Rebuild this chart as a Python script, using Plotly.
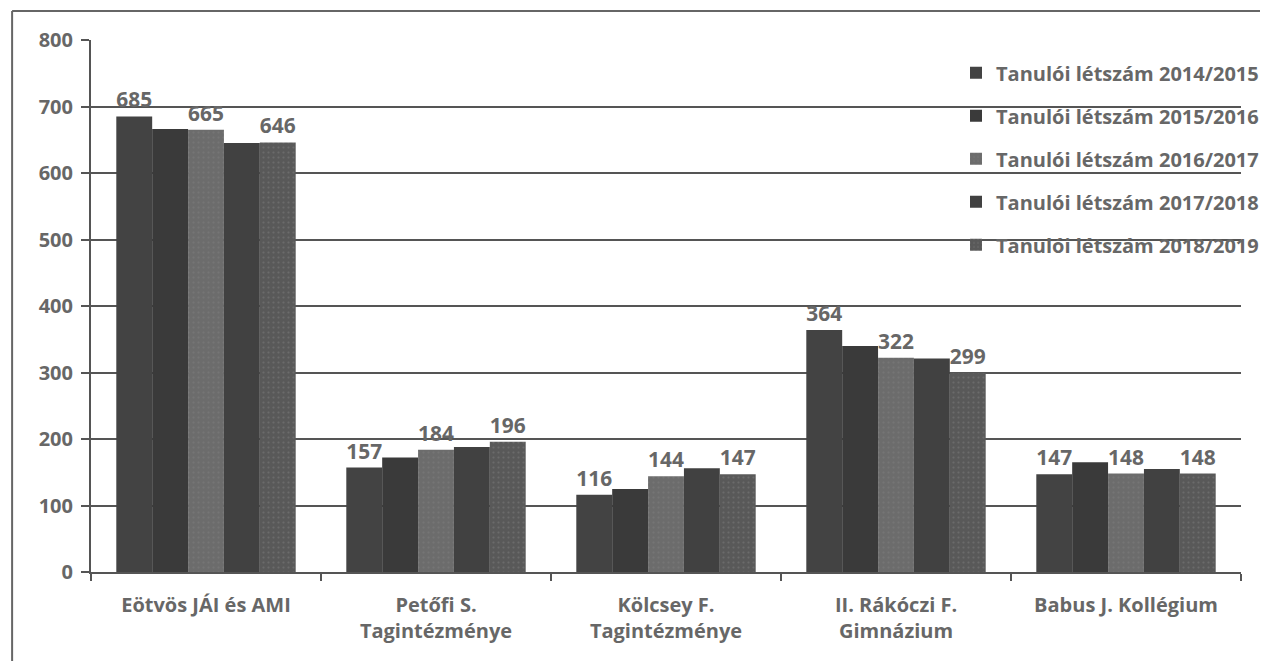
import plotly.graph_objects as go

categories = ["Eötvös JÁI és AMI", "Petőfi S.<br>Tagintézménye", "Kölcsey F.<br>Tagintézménye",
              "II. Rákóczi F.<br>Gimnázium", "Babus J. Kollégium"]
series_names = ["Tanulói létszám 2014/2015", "Tanulói létszám 2015/2016", "Tanulói létszám 2016/2017",
                "Tanulói létszám 2017/2018", "Tanulói létszám 2018/2019"]
v2014 = [685, 157, 116, 364, 147]
v2015 = [666, 172, 125, 340, 165]
v2016 = [665, 184, 144, 322, 148]
v2017 = [645, 188, 156, 321, 155]
v2018 = [646, 196, 147, 299, 148]
values = [v2014, v2015, v2016, v2017, v2018]
labelled = [True, False, True, False, True]
y_ticks = [0, 100, 200, 300, 400, 500, 600, 700, 800]

colors = ["#434343", "#3a3a3a", "#6c6c6c", "#414141", "#595959"]
patterns = ["", "", ".", "", "."]
text_color = "#676767"
font_family = "Open Sans"
fs = 20

fig = go.Figure()
for i, (name, vals) in enumerate(zip(series_names, values)):
    fig.add_trace(go.Bar(
        x=categories, y=vals, name=name,
        legendgroup=f"g{i}",
        marker=dict(color=colors[i], line=dict(width=0),
                    pattern=dict(shape=patterns[i], fgcolor="#7d7d7d", size=5, solidity=0.15)),
        text=[str(v) for v in vals] if labelled[i] else None,
        textposition="outside",
        cliponaxis=False,
        textfont=dict(family=font_family, size=fs + 1, color=text_color, weight="bold"),
    ))

fig.update_layout(
    barmode="group", bargap=0.22, bargroupgap=0,
    width=1268, height=661,
    margin=dict(l=83, r=33, t=32, b=97),
    paper_bgcolor="white", plot_bgcolor="white",
    font=dict(family=font_family, color=text_color, size=fs),
    legend=dict(x=1.02, xanchor="right", y=0.975, yanchor="top",
                bgcolor="rgba(0,0,0,0)", tracegroupgap=14,
                font=dict(family=font_family, size=fs, color=text_color, weight="bold"),
                itemwidth=30),
    showlegend=True,
)
fig.update_yaxes(range=[0, 800], tickvals=y_ticks, ticktext=[str(t) for t in y_ticks],
                 showgrid=True, gridcolor="#555555", gridwidth=2,
                 showline=True, linecolor="#555555", linewidth=2,
                 ticks="outside", ticklen=8, tickwidth=2, tickcolor="#555555",
                 ticklabelstandoff=4,
                 tickfont=dict(family=font_family, size=fs, color=text_color, weight="bold"),
                 zeroline=False)
fig.update_xaxes(showline=True, linecolor="#555555", linewidth=2,
                 ticks="outside", tickson="boundaries", ticklen=7, tickwidth=2, tickcolor="#555555",
                 ticklabelstandoff=14,
                 tickfont=dict(family=font_family, size=fs, color=text_color, weight="bold"))

# scanned page frame
fig.add_shape(type="line", xref="paper", yref="paper", x0=-0.0686, x1=-0.0686, y0=1.0545, y1=-0.2,
              line=dict(color="#666666", width=2))
fig.add_shape(type="line", xref="paper", yref="paper", x0=-0.0686, x1=1.05, y0=1.0545, y1=1.0545,
              line=dict(color="#666666", width=2))

fig.write_html("out.html")
